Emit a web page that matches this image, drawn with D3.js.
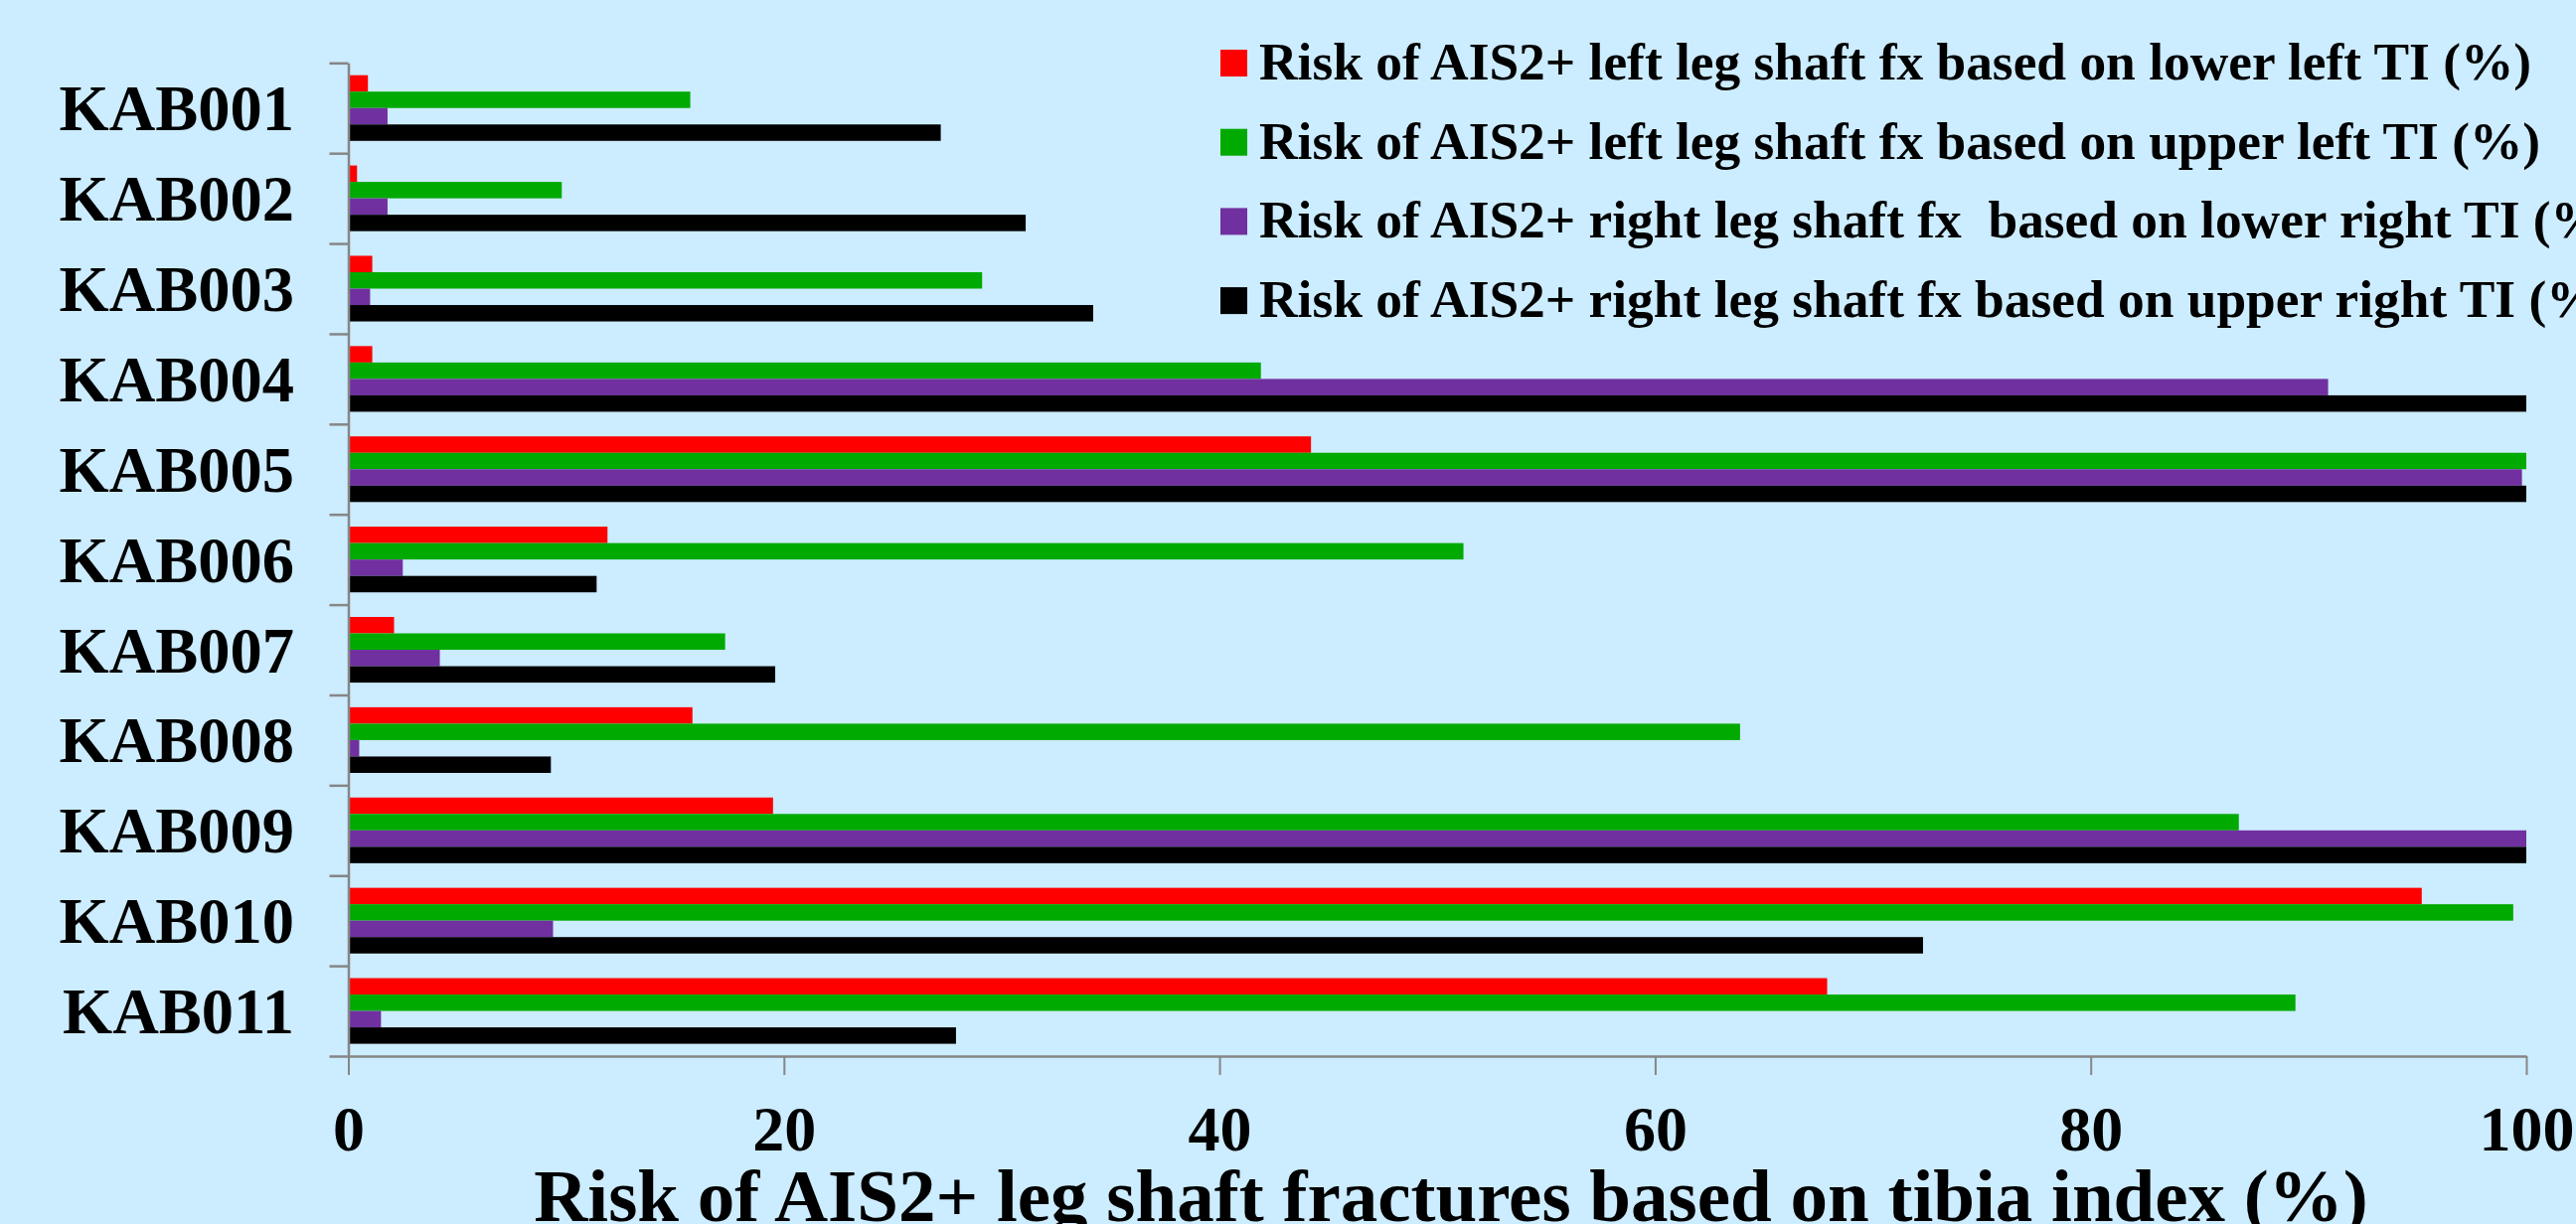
<!DOCTYPE html>
<html>
<head>
<meta charset="utf-8">
<script src="https://cdn.jsdelivr.net/npm/d3@7"></script>
<style>
  html, body { margin: 0; padding: 0; background: #CCECFF; overflow: hidden; }
  svg { display: block; }
  text { font-family: "Liberation Serif", "Times New Roman", serif; font-weight: bold; fill: #000; }
</style>
</head>
<body>
<svg id="chart" width="2592" height="1232"></svg>
<script>
const categories = ["KAB001","KAB002","KAB003","KAB004","KAB005","KAB006","KAB007","KAB008","KAB009","KAB010","KAB011"];
const seriesNames = [
  "Risk of AIS2+ left leg shaft fx based on lower left TI (%)",
  "Risk of AIS2+ left leg shaft fx based on upper left TI (%)",
  "Risk of AIS2+ right leg shaft fx  based on lower right TI (%)",
  "Risk of AIS2+ right leg shaft fx based on upper right TI (%)"
];
const lowerLeft  = [0.9, 0.4, 1.1, 1.1, 44.2, 11.9, 2.1, 15.8, 19.5, 95.2, 67.9];
const upperLeft  = [15.7, 9.8, 29.1, 41.9, 100, 51.2, 17.3, 63.9, 86.8, 99.4, 89.4];
const lowerRight = [1.8, 1.8, 1.0, 90.9, 99.8, 2.5, 4.2, 0.5, 100, 9.4, 1.5];
const upperRight = [27.2, 31.1, 34.2, 100, 100, 11.4, 19.6, 9.3, 100, 72.3, 27.9];
const seriesColors = ["#FF0000", "#00AA00", "#7030A0", "#000000"];
const xTicks = [0, 20, 40, 60, 80, 100];
const xTitle = "Risk of AIS2+ leg shaft fractures based on tibia index (%)";

const seriesValues = [lowerLeft, upperLeft, lowerRight, upperRight];

(function () {
const svg = d3.select("#chart");
const plotLeft = 350.5, plotRight = 2542, plotTop = 63.3, plotBottom = 1063;

const x = d3.scaleLinear().domain([0, 100]).range([plotLeft, plotRight]);
const y = d3.scaleBand().domain(categories).range([plotTop, plotBottom]).paddingInner(0).paddingOuter(0);
const ySub = d3.scaleBand().domain(d3.range(seriesNames.length)).range([0, y.bandwidth()])
  .paddingInner(0).paddingOuter(0.75);
const yIdx = d3.scaleLinear().domain([0, categories.length]).range([plotTop, plotBottom]);

// bars
const groups = svg.append("g").selectAll("g")
  .data(categories).join("g")
  .attr("transform", d => `translate(0,${y(d)})`);
groups.selectAll("rect")
  .data((d, i) => seriesValues.map((s, k) => ({k, v: s[i]})))
  .join("rect")
  .attr("x", x(0))
  .attr("y", d => ySub(d.k))
  .attr("width", d => x(d.v) - x(0))
  .attr("height", ySub.bandwidth())
  .attr("fill", d => seriesColors[d.k]);

// y axis (tick marks between categories)
const yAxis = svg.append("g").attr("transform", `translate(${plotLeft},0)`)
  .call(d3.axisLeft(yIdx).tickValues(d3.range(0, categories.length + 1)).tickSize(19).tickSizeOuter(0).tickFormat(""));
yAxis.select(".domain").attr("stroke", "#868686").attr("stroke-width", 2.5);
yAxis.selectAll(".tick line").attr("stroke", "#868686").attr("stroke-width", 2.5);

// category labels
svg.append("g").selectAll("text").data(categories).join("text")
  .attr("x", 296)
  .attr("y", d => y(d) + y.bandwidth() / 2)
  .attr("dy", "0.35em")
  .attr("text-anchor", "end")
  .style("font-size", "64.5px")
  .text(d => d);

// x axis
const xAxis = svg.append("g").attr("transform", `translate(0,${plotBottom})`)
  .call(d3.axisBottom(x).tickValues(xTicks).tickSize(19).tickSizeOuter(0).tickFormat(d3.format("d")));
xAxis.select(".domain").attr("stroke", "#868686").attr("stroke-width", 2.5);
xAxis.selectAll(".tick line").attr("stroke", "#868686").attr("stroke-width", 2);
xAxis.selectAll(".tick text")
  .attr("y", 95).attr("dy", 0)
  .style("font-family", '"Liberation Serif", "Times New Roman", serif')
  .style("font-weight", "bold")
  .style("font-size", "64px")
  .attr("fill", "#000");

// x title
svg.append("text")
  .attr("x", 1460).attr("y", 1229)
  .attr("text-anchor", "middle")
  .style("font-size", "75px")
  .text(xTitle);

// legend
const legend = svg.append("g").selectAll("g").data(seriesNames).join("g")
  .attr("transform", (d, i) => `translate(1228,${50 + i * 79.7})`);
legend.append("rect").attr("width", 27).attr("height", 27).attr("fill", (d, i) => seriesColors[i]);
legend.append("text")
  .attr("x", 39).attr("y", 30)
  .attr("xml:space", "preserve")
  .style("white-space", "pre")
  .style("font-size", "53.4px")
  .text(d => d);
})();
</script>
</body>
</html>
